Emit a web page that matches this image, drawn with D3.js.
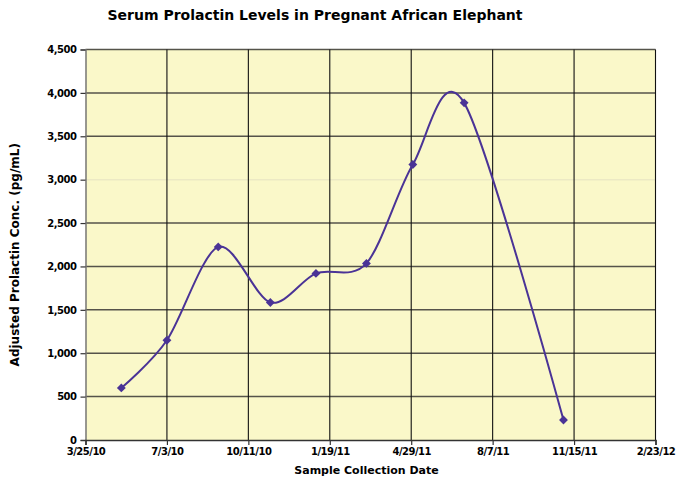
<!doctype html>
<meta charset="utf-8">
<script src="https://d3js.org/d3.v7.min.js"></script>
<style>
  body { margin: 0; background: #fff; }
  text { font-family: "DejaVu Sans", sans-serif; font-weight: bold; fill: #000; }
</style>
<body>
</body>
<script>
// sample dates and adjusted prolactin values
var sampleDates = ["5/8/10", "7/3/10", "9/4/10", "11/7/10", "1/2/11", "3/5/11", "5/1/11", "7/3/11", "11/2/11"];
var prolactin = [600, 1150, 2225, 1585, 1920, 2035, 3175, 3885, 230];
var xTickLabels = ["3/25/10", "7/3/10", "10/11/10", "1/19/11", "4/29/11", "8/7/11", "11/15/11", "2/23/12"];
var yTicks = [0, 500, 1000, 1500, 2000, 2500, 3000, 3500, 4000, 4500];

var parse = d3.timeParse("%m/%d/%y"),
    fmtX = d3.timeFormat("%-m/%-d/%y"),
    fmtY = d3.format(",");

var width = 676, height = 482,
    pLeft = 85.5, pRight = 655.5, pTop = 49.5, pBottom = 440;

var svg = d3.select("body").append("svg")
    .attr("width", width).attr("height", height);

var xTicks = xTickLabels.map(parse);
var x = d3.scaleTime()
    .domain([xTicks[0], xTicks[xTicks.length - 1]])
    .range([pLeft, pRight]);
var y = d3.scaleLinear()
    .domain([0, 4500])
    .range([pBottom, pTop]);

var data = sampleDates.map(function(d, i) { return {date: parse(d), value: prolactin[i]}; });

// plot background
svg.append("rect")
    .attr("x", pLeft).attr("y", pTop)
    .attr("width", pRight - pLeft).attr("height", pBottom - pTop)
    .style("fill", "#faf8c9");

// horizontal grid (3000 line is almost invisible in the original)
svg.append("g").selectAll("line")
    .data(yTicks.slice(1))
    .enter().append("line")
    .attr("x1", pLeft).attr("x2", pRight)
    .attr("y1", function(d) { return y(d); })
    .attr("y2", function(d) { return y(d); })
    .style("stroke", function(d) { return d == 3000 ? "#ece9c4" : "#55534a"; })
    .style("stroke-width", 1.5);

// vertical grid
svg.append("g").selectAll("line")
    .data(xTicks.slice(1))
    .enter().append("line")
    .attr("x1", function(d) { return x(d); })
    .attr("x2", function(d) { return x(d); })
    .attr("y1", pTop).attr("y2", pBottom)
    .style("stroke", "#111")
    .style("stroke-width", 1.1);

// axes
var yAxis = svg.append("g")
    .attr("transform", "translate(" + pLeft + ",0)")
    .call(d3.axisLeft(y).tickValues(yTicks).tickFormat(fmtY).tickSize(5).tickPadding(4));
var xAxis = svg.append("g")
    .attr("transform", "translate(0," + pBottom + ")")
    .call(d3.axisBottom(x).tickValues(xTicks).tickFormat(fmtX).tickSize(5).tickPadding(3));

yAxis.select(".domain").style("stroke", "#777").style("stroke-width", 1.5);
xAxis.select(".domain").style("stroke", "#333").style("stroke-width", 1.5);
svg.selectAll(".tick line").style("stroke", "#333").style("stroke-width", 1.2);
svg.selectAll(".tick text")
    .style("font-family", "'DejaVu Sans', sans-serif")
    .style("font-weight", "bold")
    .style("font-size", "10px")
    .style("letter-spacing", "-0.5px")
    .style("fill", "#000");

// smoothed line
var line = d3.line()
    .x(function(d) { return x(d.date); })
    .y(function(d) { return y(d.value); })
    .curve(d3.curveCardinal.tension(0.08));

svg.append("path")
    .datum(data)
    .attr("d", line)
    .style("fill", "none")
    .style("stroke", "#4a3396")
    .style("stroke-width", 2);

// diamond markers
svg.append("g").selectAll("path")
    .data(data)
    .enter().append("path")
    .attr("transform", function(d) { return "translate(" + x(d.date) + "," + y(d.value) + ")"; })
    .attr("d", d3.symbol().type(d3.symbolDiamond2).size(50))
    .style("fill", "#4a3396");

// titles
svg.append("text")
    .attr("x", 315).attr("y", 20)
    .attr("text-anchor", "middle")
    .style("font-size", "14px")
    .text("Serum Prolactin Levels in Pregnant African Elephant");

svg.append("text")
    .attr("x", (pLeft + pRight) / 2 - 4).attr("y", 474)
    .attr("text-anchor", "middle")
    .style("font-size", "11px")
    .text("Sample Collection Date");

svg.append("text")
    .attr("transform", "translate(19," + ((pTop + pBottom) / 2 + 10) + ") rotate(-90)")
    .attr("text-anchor", "middle")
    .style("font-size", "12px")
    .text("Adjusted Prolactin Conc. (pg/mL)");
</script>
